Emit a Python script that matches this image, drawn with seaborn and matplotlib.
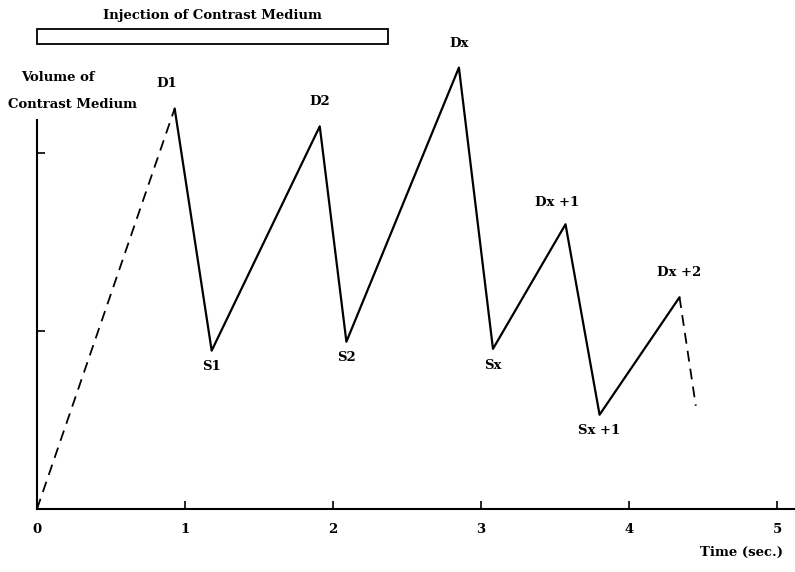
import numpy as np
import pandas as pd
import seaborn as sns
import matplotlib.pyplot as plt
from matplotlib.patches import Rectangle

# values
peak_labels = ["D1", "S1", "D2", "S2", "Dx", "Sx", "Dx +1", "Sx +1", "Dx +2"]
peak_time = [0.93, 1.18, 1.91, 2.09, 2.85, 3.08, 3.57, 3.80, 4.34]
peak_volume = [2.25, 0.89, 2.15, 0.94, 2.48, 0.90, 1.60, 0.53, 1.19]

# dashed lead-in and tail
lead_time = [0.0, 0.93]
lead_volume = [0.0, 2.25]
tail_time = [4.34, 4.45]
tail_volume = [1.19, 0.58]

# injection period (sec.)
injection_start = 0.0
injection_end = 2.37

x_ticks = [0, 1, 2, 3, 4, 5]
y_ticks = [1, 2]

sns.set_style("white")
plt.rcParams["font.family"] = ["DejaVu Serif"]
plt.rcParams["font.weight"] = "bold"
plt.rcParams["text.color"] = "black"

fig = plt.figure(figsize=(7.95, 5.72), dpi=100)
ax = fig.add_axes([0.0465, 0.110, 0.9535, 0.680])

main = pd.DataFrame({"time": peak_time, "volume": peak_volume})
lead = pd.DataFrame({"time": lead_time, "volume": lead_volume})
tail = pd.DataFrame({"time": tail_time, "volume": tail_volume})

sns.lineplot(data=main, x="time", y="volume", ax=ax, color="black", lw=1.6,
             sort=False, clip_on=False)
sns.lineplot(data=lead, x="time", y="volume", ax=ax, color="black", lw=1.3,
             linestyle=(0, (6, 4)), clip_on=False)
sns.lineplot(data=tail, x="time", y="volume", ax=ax, color="black", lw=1.3,
             linestyle=(0, (6, 4)), clip_on=False)

# point labels: peaks above, troughs below
for lab, t, v in zip(peak_labels, peak_time, peak_volume):
    if lab.startswith("D"):
        dx = -6 if lab in ("D1", "Dx +1") else 0
        dy = 11 if lab == "Dx +1" else 13
        ax.annotate(lab, (t, v), xytext=(dx, dy), textcoords="offset points",
                    ha="center", va="bottom", fontsize=9.5, fontweight="bold",
                    color="black", annotation_clip=False)
    else:
        ax.annotate(lab, (t, v), xytext=(0, -7), textcoords="offset points",
                    ha="center", va="top", fontsize=9.5, fontweight="bold",
                    color="black", annotation_clip=False)

# injection bar
ax.add_patch(Rectangle((injection_start, 2.61), injection_end - injection_start, 0.085,
                       fill=False, edgecolor="black", lw=1.3, clip_on=False))
ax.text((injection_start + injection_end) / 2, 2.775, "Injection of Contrast Medium",
        ha="center", va="center", fontsize=9.5, fontweight="bold", color="black")

ax.set_xlim(0, 5.12)
ax.set_ylim(0, 2.185)
ax.set_xticks(x_ticks)
ax.set_xticklabels([str(t) for t in x_ticks])
ax.set_yticks(y_ticks)
ax.set_yticklabels([])
ax.tick_params(axis="both", direction="in", length=6, width=1.2, colors="black",
               labelsize=9.5, pad=10)
ax.tick_params(axis="x", bottom=True)
ax.tick_params(axis="y", left=True)
for lbl in ax.get_xticklabels():
    lbl.set_fontweight("bold")
ax.set_xlabel("")
ax.set_ylabel("")

sns.despine(ax=ax, top=True, right=True)
ax.spines["left"].set_linewidth(1.5)
ax.spines["bottom"].set_linewidth(1.5)
ax.spines["left"].set_color("black")
ax.spines["bottom"].set_color("black")

fig.text(0.073, 0.864, "Volume of", ha="center", va="center", fontsize=9.5, fontweight="bold")
fig.text(0.091, 0.818, "Contrast Medium", ha="center", va="center", fontsize=9.5, fontweight="bold")
fig.text(0.933, 0.034, "Time (sec.)", ha="center", va="center", fontsize=9.5, fontweight="bold")

fig.savefig("out.png", dpi=100)
